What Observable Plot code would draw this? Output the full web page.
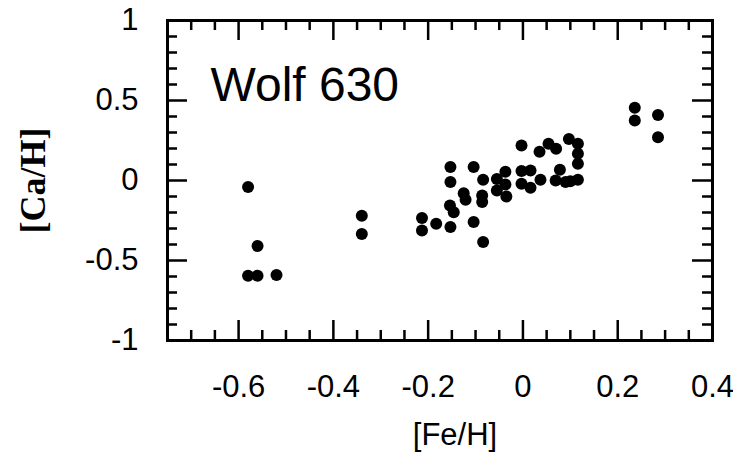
<!DOCTYPE html>
<html>
<head>
<meta charset="utf-8">
<script src="https://cdn.jsdelivr.net/npm/d3@7"></script>
<script src="https://cdn.jsdelivr.net/npm/@observablehq/plot@0.6"></script>
<style>
  html, body { margin: 0; padding: 0; background: #fff; }
  #log { position: absolute; left: 0; top: 0; font: 9px monospace; white-space: pre; }
</style>
</head>
<body>
<div id="chart"></div>
<div id="log"></div>
<script>
// [Fe/H] values (x)
const feH = [
  -0.58, -0.56, -0.58, -0.56, -0.52,
  -0.34, -0.34,
  -0.213, -0.213, -0.183,
  -0.153, -0.153, -0.154, -0.146, -0.153,
  -0.125, -0.121,
  -0.104, -0.104,
  -0.084, -0.086, -0.086, -0.084,
  -0.055, -0.055,
  -0.037, -0.037, -0.035,
  -0.003, -0.003, -0.003,
  0.016, 0.016,
  0.035, 0.037,
  0.054,
  0.07, 0.069,
  0.078,
  0.09, 0.10,
  0.097,
  0.116, 0.116, 0.116, 0.116,
  0.236, 0.236, 0.285, 0.285
];
// [Ca/H] values (y)
const caH = [
  -0.04, -0.41, -0.595, -0.595, -0.59,
  -0.22, -0.335,
  -0.235, -0.313, -0.27,
  0.085, -0.01, -0.156, -0.198, -0.29,
  -0.079, -0.12,
  0.085, -0.26,
  0.004, -0.094, -0.135, -0.385,
  0.01, -0.062,
  0.055, -0.025, -0.10,
  0.219, 0.06, -0.02,
  0.063, -0.045,
  0.18, 0.004,
  0.23,
  0.198, 0.0,
  0.067,
  -0.01, -0.005,
  0.26,
  0.229, 0.167, 0.104, 0.004,
  0.455, 0.375, 0.41, 0.27
];

const xMajorTicks = [-0.6, -0.4, -0.2, 0, 0.2, 0.4];
const xTickLabels = ["-0.6", "-0.4", "-0.2", "0", "0.2", "0.4"];
const xMinorTicks = [-0.75, -0.7, -0.65, -0.55, -0.5, -0.45, -0.35, -0.3, -0.25, -0.15, -0.1, -0.05, 0.05, 0.1, 0.15, 0.25, 0.3, 0.35];
const yMajorTicks = [-1, -0.5, 0, 0.5, 1];
const yTickLabels = ["-1", "-0.5", "0", "0.5", "1"];
const yMinorTicks = [-0.9, -0.8, -0.7, -0.6, -0.4, -0.3, -0.2, -0.1, 0.1, 0.2, 0.3, 0.4, 0.6, 0.7, 0.8, 0.9];

const xLabel = "[Fe/H]";
const yLabel = "[Ca/H]";
const panelLabel = "Wolf 630";

const W = 733, H = 458, mL = 167, mR = 21, mT = 20, mB = 118;
const frameW = W - mL - mR, frameH = H - mT - mB;
const minorLen = 10, majorLen = 20;
const fmtX = d => xTickLabels[xMajorTicks.indexOf(d)];
const fmtY = d => yTickLabels[yMajorTicks.indexOf(d)];

try {
  const points = feH.map((x, i) => ({ fe: x, ca: caH[i] }));
  const tk = { stroke: "black", strokeWidth: 2.5 };
  const chart = Plot.plot({
    width: W,
    height: H,
    marginLeft: mL,
    marginRight: mR,
    marginTop: mT,
    marginBottom: mB,
    style: { fontFamily: "'Liberation Sans', Arial, sans-serif", background: "#fff" },
    x: { domain: [-0.75, 0.4], axis: null },
    y: { domain: [-1, 1], axis: null },
    marks: [
      Plot.frame({ stroke: "black", strokeWidth: 3, fill: "none" }),
      // inward minor ticks on all four sides
      Plot.tickX(xMinorTicks, { x: d => d, insetTop: frameH - minorLen, ...tk }),
      Plot.tickX(xMinorTicks, { x: d => d, insetBottom: frameH - minorLen, ...tk }),
      Plot.tickY(yMinorTicks, { y: d => d, insetRight: frameW - minorLen, ...tk }),
      Plot.tickY(yMinorTicks, { y: d => d, insetLeft: frameW - minorLen, ...tk }),
      // inward major ticks
      Plot.tickX(xMajorTicks, { x: d => d, insetTop: frameH - majorLen, ...tk }),
      Plot.tickX(xMajorTicks, { x: d => d, insetBottom: frameH - majorLen, ...tk }),
      Plot.tickY(yMajorTicks, { y: d => d, insetRight: frameW - majorLen, ...tk }),
      Plot.tickY(yMajorTicks, { y: d => d, insetLeft: frameW - majorLen, ...tk }),
      // tick labels
      Plot.axisX(xMajorTicks, { anchor: "bottom", tickSize: 0, tickPadding: 34, fontSize: 31, tickFormat: fmtX, label: null, fill: "black" }),
      Plot.axisY(yMajorTicks, { anchor: "left", tickSize: 0, tickPadding: 29, fontSize: 31, tickFormat: fmtY, label: null, fill: "black" }),
      Plot.dot(points, { x: "fe", y: "ca", r: 6, fill: "black", stroke: "none" }),
      Plot.text([panelLabel], { frameAnchor: "top-left", dx: 43, dy: 80, textAnchor: "start", lineAnchor: "bottom", fontSize: 48, fill: "black" }),
      Plot.text([xLabel], { frameAnchor: "bottom", dx: 15, dy: 95, lineAnchor: "middle", fontSize: 31, fill: "black" }),
      Plot.text([yLabel], { frameAnchor: "left", dx: -134, rotate: -90, lineAnchor: "middle", textAnchor: "middle", fontSize: 36, fontWeight: "bold", fontFamily: "'Liberation Serif', 'Times New Roman', serif", fill: "black" })
    ]
  });
  document.getElementById("chart").appendChild(chart);
} catch (e) {
  document.getElementById("log").textContent = e.stack;
}
</script>
</body>
</html>
